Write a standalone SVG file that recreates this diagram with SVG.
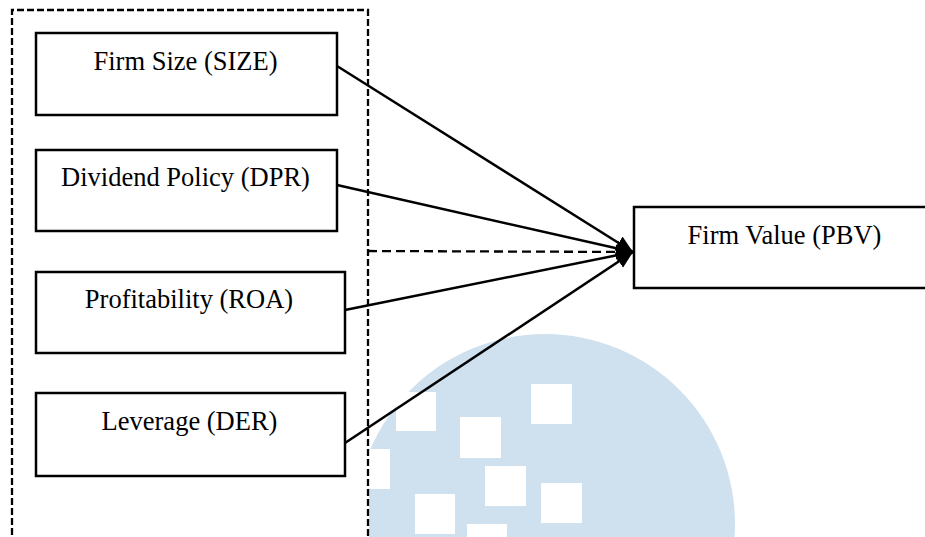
<svg xmlns="http://www.w3.org/2000/svg" width="925" height="537" viewBox="0 0 925 537">
<style>
.box{fill:#fff;stroke:#000;stroke-width:2.5}
.lbl{font-family:"Liberation Serif","Times New Roman",serif;font-size:26.5px;fill:#000;text-anchor:middle}
.conn{fill:none;stroke:#000;stroke-width:2.5}
.dash{fill:none;stroke:#000;stroke-width:2.3;stroke-dasharray:9,5}
.wm{fill:#cfe0ef}
.sq{fill:#fff}
</style>
<defs>
<marker id="ah" markerUnits="userSpaceOnUse" markerWidth="17" markerHeight="16" refX="17" refY="7.5" orient="auto">
<path d="M0,0 L17,7.5 L0,15 z" fill="#000"/>
</marker>
<clipPath id="wmclip"><rect x="369" y="0" width="556" height="537"/></clipPath>
</defs>
<rect width="925" height="537" fill="#fff"/>
<g id="watermark" clip-path="url(#wmclip)">
<circle class="wm" cx="545" cy="524" r="190"/>
<rect class="sq" x="396" y="392" width="40" height="39"/>
<rect class="sq" x="460" y="417" width="41" height="41"/>
<rect class="sq" x="531" y="384" width="41" height="40"/>
<rect class="sq" x="350" y="449" width="40" height="40"/>
<rect class="sq" x="485" y="466" width="41" height="40"/>
<rect class="sq" x="541" y="483" width="41" height="40"/>
<rect class="sq" x="415" y="494" width="40" height="40"/>
<rect class="sq" x="467" y="524" width="40" height="40"/>
</g>
<g id="group-frame">
<path class="dash" style="stroke-dasharray:7,3" d="M12,545 V10 H368 V545"/>
</g>
<g id="connectors">
<line class="dash" x1="368" y1="251" x2="633" y2="252" marker-end="url(#ah)"/>
<line class="conn" x1="337" y1="66" x2="633" y2="252" marker-end="url(#ah)"/>
<line class="conn" x1="337" y1="185" x2="633" y2="252" marker-end="url(#ah)"/>
<line class="conn" x1="345" y1="310" x2="633" y2="252" marker-end="url(#ah)"/>
<line class="conn" x1="345" y1="443" x2="633" y2="252" marker-end="url(#ah)"/>
</g>
<g id="node-size">
<rect class="box" x="36" y="33" width="301" height="82"/>
<text class="lbl" x="185.5" y="70">Firm Size (SIZE)</text>
</g>
<g id="node-dpr">
<rect class="box" x="36" y="150" width="301" height="81"/>
<text class="lbl" x="185.5" y="186">Dividend Policy (DPR)</text>
</g>
<g id="node-roa">
<rect class="box" x="36" y="272" width="309" height="81"/>
<text class="lbl" x="189" y="308">Profitability (ROA)</text>
</g>
<g id="node-der">
<rect class="box" x="36" y="393" width="309" height="83"/>
<text class="lbl" x="189.5" y="430">Leverage (DER)</text>
</g>
<g id="node-pbv">
<rect class="box" x="634" y="207" width="310" height="81"/>
<text class="lbl" x="784.5" y="244">Firm Value (PBV)</text>
</g>
</svg>
